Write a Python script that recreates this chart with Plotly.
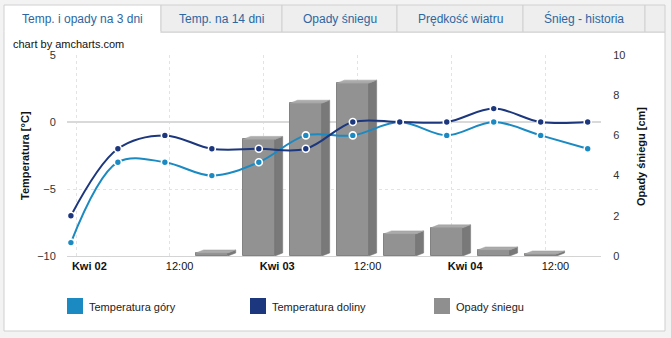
import plotly.graph_objects as go
import pandas as pd

# ---------------- data ----------------
times = ["2013-04-02 00:00", "2013-04-02 06:00", "2013-04-02 12:00", "2013-04-02 18:00",
         "2013-04-03 00:00", "2013-04-03 06:00", "2013-04-03 12:00", "2013-04-03 18:00",
         "2013-04-04 00:00", "2013-04-04 06:00", "2013-04-04 12:00", "2013-04-04 18:00"]
temp_gory = [-9, -3, -3, -4, -3, -1, -1, 0, -1, 0, -1, -2]
temp_doliny = [-7, -2, -1, -2, -2, -2, 0, 0, 0, 1, 0, 0]

snow_times = ["2013-04-02 18:00", "2013-04-03 00:00", "2013-04-03 06:00", "2013-04-03 12:00",
              "2013-04-03 18:00", "2013-04-04 00:00", "2013-04-04 06:00", "2013-04-04 12:00"]
snow = [0.15, 5.8, 7.6, 8.6, 1.1, 1.4, 0.3, 0.1]

tick_vals = ["2013-04-02 00:00", "2013-04-02 12:00", "2013-04-03 00:00",
             "2013-04-03 12:00", "2013-04-04 00:00", "2013-04-04 12:00"]
tick_text = ["<b>Kwi 02</b>", "12:00", "<b>Kwi 03</b>", "12:00", "<b>Kwi 04</b>", "12:00"]

tabs = ["Temp. i opady na 3 dni", "Temp. na 14 dni", "Opady śniegu", "Prędkość wiatru", "Śnieg - historia"]

C_LIGHT = "#1b8ac2"
C_DARK = "#1c377d"
C_BAR = "#929292"
FONT = "Liberation Sans, Arial, sans-serif"

# ---------------- geometry (pixel layout) ----------------
W, H = 671, 338
L, R, T, B = 67, 70, 55, 82
PW, PH = W - L - R, H - T - B


def px(x):
    return (x - L) / PW


def py(y):
    return (H - B - y) / PH


x0 = pd.Timestamp(times[0]) - pd.Timedelta(hours=0.5)
x1 = pd.Timestamp(times[-1]) + pd.Timedelta(hours=1.7)
grid_shift = pd.Timedelta(hours=0.65)

# 3D bar pieces computed from the data
hw = pd.Timedelta(hours=2.05)
dx = pd.Timedelta(hours=1.0)
dy = 0.15
side_x, side_y, top_x, top_y = [], [], [], []
for t, v in zip(snow_times, snow):
    t = pd.Timestamp(t)
    xr = t + hw
    xl = t - hw
    side_x += [xr, xr + dx, xr + dx, xr, xr, None]
    side_y += [0, dy, v + dy, v, 0, None]
    top_x += [xl, xl + dx, xr + dx, xr, xl, None]
    top_y += [v, v + dy, v + dy, v, v, None]


def iso(lst):
    return [None if a is None else a.strftime("%Y-%m-%d %H:%M:%S") for a in lst]


fig = go.Figure()

# bars (primary y = snow, right side)
fig.add_trace(go.Bar(x=snow_times, y=snow, width=2 * hw.total_seconds() * 1000,
                     marker=dict(color=C_BAR, line=dict(color="#828282", width=1)),
                     name="Opady śniegu", showlegend=False, hoverinfo="skip"))
fig.add_trace(go.Scatter(x=iso(side_x), y=side_y, fill="toself", mode="lines",
                         fillcolor="#797979", line=dict(color="#747474", width=0.5),
                         showlegend=False, hoverinfo="skip"))
fig.add_trace(go.Scatter(x=iso(top_x), y=top_y, fill="toself", mode="lines",
                         fillcolor="#ababab", line=dict(color="#9c9c9c", width=0.5),
                         showlegend=False, hoverinfo="skip"))

# temperature lines (overlay y2 = left axis)
marker_common = dict(size=7, line=dict(color="white", width=1.6))
fig.add_trace(go.Scatter(x=times, y=temp_gory, yaxis="y2", mode="lines+markers",
                         line=dict(color=C_LIGHT, width=2, shape="spline", smoothing=1),
                         marker=dict(color=C_LIGHT, **marker_common),
                         name="Temperatura góry", showlegend=False))
fig.add_trace(go.Scatter(x=times, y=temp_doliny, yaxis="y2", mode="lines+markers",
                         line=dict(color=C_DARK, width=2, shape="spline", smoothing=1),
                         marker=dict(color=C_DARK, **marker_common),
                         name="Temperatura doliny", showlegend=False))
# empty trace to register the shifted grid axis
fig.add_trace(go.Scatter(x=[], y=[], xaxis="x2", yaxis="y", showlegend=False))

shapes = []
annotations = []

# outer frame (content area)
shapes.append(dict(type="rect", xref="paper", yref="paper", layer="below",
                   x0=px(4), x1=px(665), y0=py(331), y1=py(32),
                   fillcolor="white", line=dict(color="#cfcfcf", width=1)))
# tabs
tab_edges = [4, 161, 282, 397, 523, 645, 665]
for i in range(len(tab_edges) - 1):
    a, b = tab_edges[i], tab_edges[i + 1]
    active = i == 0
    shapes.append(dict(type="rect", xref="paper", yref="paper", layer="below",
                       x0=px(a), x1=px(b), y0=py(32), y1=py(5),
                       fillcolor="white" if active else "#eeeeee",
                       line=dict(color="#d0d0d0", width=1)))
    if i < len(tabs):
        annotations.append(dict(xref="paper", yref="paper", x=px((a + b) / 2), y=py(18.5),
                                text=tabs[i], showarrow=False, xanchor="center", yanchor="middle",
                                font=dict(family=FONT, size=12, color="#2c67a1")))
# hide the bottom border under the active tab
shapes.append(dict(type="line", xref="paper", yref="paper", layer="below",
                   x0=px(4.6), x1=px(160.4), y0=py(32), y1=py(32),
                   line=dict(color="white", width=2)))

annotations.append(dict(xref="paper", yref="paper", x=px(11), y=py(44.5), text="chart by amcharts.com",
                        showarrow=False, xanchor="left", yanchor="middle",
                        font=dict(family=FONT, size=11, color="#111")))
annotations.append(dict(xref="paper", yref="paper", x=px(25), y=py(156), text="<b>Temperatura [°C]</b>",
                        showarrow=False, textangle=-90, xanchor="center", yanchor="middle",
                        font=dict(family=FONT, size=11, color="#111")))
annotations.append(dict(xref="paper", yref="paper", x=px(641), y=py(157), text="<b>Opady śniegu [cm]</b>",
                        showarrow=False, textangle=-90, xanchor="center", yanchor="middle",
                        font=dict(family=FONT, size=11, color="#111")))

# legend
legend_items = [("Temperatura góry", C_LIGHT, 67), ("Temperatura doliny", C_DARK, 250), ("Opady śniegu", "#8f8f8f", 434)]
for label, col, lx in legend_items:
    shapes.append(dict(type="rect", xref="paper", yref="paper",
                       x0=px(lx), x1=px(lx + 16), y0=py(314), y1=py(298),
                       fillcolor=col, line=dict(width=0)))
    annotations.append(dict(xref="paper", yref="paper", x=px(lx + 20), y=py(306.5), text=label,
                            showarrow=False, xanchor="left", yanchor="middle",
                            font=dict(family=FONT, size=11, color="#222")))

fig.update_layout(
    width=W, height=H,
    margin=dict(l=L, r=R, t=T, b=B, pad=0),
    paper_bgcolor="#f3f3f3",
    plot_bgcolor="rgba(0,0,0,0)",
    bargap=0,
    showlegend=False,
    font=dict(family=FONT, size=11, color="#222"),
    xaxis=dict(type="date", range=[x0, x1], tickvals=tick_vals, ticktext=tick_text,
               ticklabelposition="outside right", ticks="outside", ticklen=5,
               tickcolor="rgba(0,0,0,0)", showgrid=False, showline=True,
               linecolor="#d4d4d4", linewidth=1, tickfont=dict(size=11, color="#111"),
               zeroline=False, fixedrange=True),
    xaxis2=dict(type="date", overlaying="x", range=[x0 - grid_shift, x1 - grid_shift],
                tickvals=tick_vals, showticklabels=False, ticks="", showgrid=True,
                gridcolor="#e3e3e3", griddash="dot", gridwidth=1, showline=False,
                zeroline=False, anchor="y"),
    yaxis=dict(range=[0, 10], side="right", tickvals=[0, 2, 4, 6, 8, 10], showgrid=False,
               ticks="outside", ticklen=9, tickcolor="rgba(0,0,0,0)", zeroline=False,
               tickfont=dict(size=11, color="#333"), showline=False),
    yaxis2=dict(range=[-10, 5], overlaying="y", side="left", tickvals=[-10, -5, 0, 5],
                showgrid=True, gridcolor="#e3e3e3", griddash="dot", gridwidth=1,
                zeroline=True, zerolinecolor="#d9d9d9", zerolinewidth=2,
                ticks="outside", ticklen=8, tickcolor="rgba(0,0,0,0)",
                tickfont=dict(size=11, color="#333"), showline=False),
    shapes=shapes,
    annotations=annotations,
)

fig.write_html("out.html")
